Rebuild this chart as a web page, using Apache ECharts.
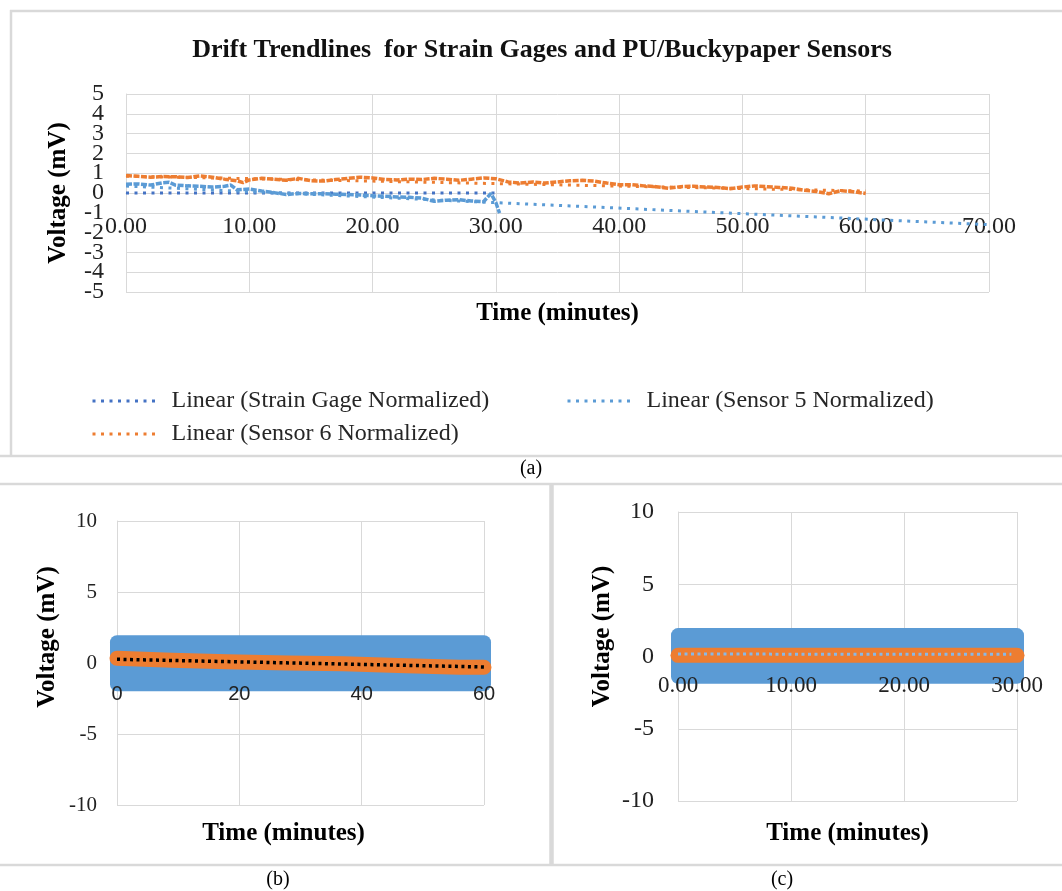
<!DOCTYPE html>
<html>
<head>
	<title>Drift Trendlines</title>
	<meta charset="utf-8" />
	<script type="text/javascript" src="https://cdn.jsdelivr.net/npm/echarts@6/dist/echarts.min.js"></script>
	<style type="text/css">
		html, body{ margin:0; padding:0; background:#fff; }
		#container{ width:1062px; height:891px; }
	</style>
</head>
<body>
<div id="container"></div>
</body>

<script type="text/javascript">
	// ---- panel (a): drift over time ----
	var s6Time  = [0,1,2,3,4,5,6,7,8,9,9.5,10,11,12,13,14,15,16,17,18,19,20,21,22,23,24,25,26,27,28,29,30,31,32,33,34,35,36,37,38,39,40,41,42,43,44,45,46,47,48,49,50,51,52,53,54,55,56,57,58,59,60];
	var s6Volt  = [0.88,0.84,0.80,0.83,0.82,0.78,0.86,0.80,0.70,0.62,0.52,0.66,0.74,0.70,0.64,0.74,0.62,0.60,0.68,0.74,0.80,0.76,0.68,0.66,0.70,0.68,0.74,0.70,0.64,0.70,0.76,0.72,0.56,0.50,0.56,0.50,0.56,0.62,0.64,0.60,0.50,0.42,0.42,0.36,0.32,0.24,0.32,0.34,0.30,0.28,0.22,0.30,0.36,0.32,0.28,0.24,0.14,0.08,-0.04,0.12,0.06,-0.02];
	var s5Time  = [0,1,2,3,3.5,4,5,6,7,8,8.5,9,10,11,12,13,14,15,16,17,18,19,20,21,22,23,24,25,26,27,28,29,29.6,30,30.3];
	var s5Volt  = [0.44,0.46,0.40,0.52,0.54,0.40,0.36,0.34,0.30,0.34,0.40,0.16,0.20,0.10,0.02,-0.08,-0.02,-0.04,-0.04,-0.06,-0.08,-0.10,-0.14,-0.16,-0.20,-0.22,-0.26,-0.42,-0.36,-0.34,-0.40,-0.44,-0.02,-0.48,-1.02];

	// trendline end points [t0, v0, t1, v1]
	var trendNames = ['Linear (Strain Gage Normalized)', 'Linear (Sensor 5 Normalized)', 'Linear (Sensor 6 Normalized)'];
	var trendGage  = [0, 0.00, 30, 0.00];
	var trendS5    = [0, 0.35, 70, -1.60];
	var trendS6    = [0, 0.85, 60, 0.10];

	// ---- panels (b) and (c): point clouds ----
	// blue cloud extent [t0, t1, low, high]
	var blueB = [0, 60, -1.50, 1.46];
	var blueC = [0, 30, -1.40, 1.48];
	// orange cloud centre line
	var orangeBTime = [0, 9, 18, 28, 37, 46, 56, 60];
	var orangeBVolt = [0.33, 0.20, 0.08, 0.00, -0.06, -0.18, -0.30, -0.30];
	var orangeCTime = [0, 30];
	var orangeCVolt = [0.08, 0.08];
	// trendlines [t0, v0, t1, v1]
	var trendB = [0, 0.26, 60, -0.28];
	var trendC = [0, 0.17, 29.5, 0.15];

	var blue = '#5B9BD5', orange = '#ED7D31', darkBlue = '#4472C4';
	var serif = '"Liberation Serif", "Times New Roman", serif';
	var gridColor = '#d9d9d9';

	function pairs(xs, ys){
		var out = [];
		for(var i = 0; i < xs.length; i++){ out.push([xs[i], ys[i]]); }
		return out;
	}
	function seg(t){ return [[t[0], t[1]], [t[2], t[3]]]; }

	// rounded block standing for a dense cloud of big markers
	function cloud(params, api){
		var r = 7;
		var a = api.coord([api.value(0), api.value(3)]);
		var b = api.coord([api.value(1), api.value(2)]);
		return {
			type:'rect',
			shape:{ x:a[0]-r, y:a[1]-r, width:b[0]-a[0]+2*r, height:b[1]-a[1]+2*r, r:r },
			style:{ fill:api.visual('color') }
		};
	}

	function valueAxis(idx, opt){
		var ax = {
			type:'value',
			gridIndex:idx,
			axisLine:{ show:true, onZero:false, lineStyle:{ color:gridColor, width:1 } },
			axisTick:{ show:false },
			splitLine:{ show:true, lineStyle:{ color:gridColor, width:1 } },
			nameLocation:'middle',
			nameMoveOverlap:false,
			nameTextStyle:{ fontFamily:serif, fontWeight:'bold', fontSize:25, color:'#000' },
			axisLabel:{ show:false }
		};
		for(var k in opt){ ax[k] = opt[k]; }
		ax.axisLabel.showMinLabel = true;
		ax.axisLabel.showMaxLabel = true;
		ax.axisLabel.hideOverlap = false;
		return ax;
	}
	// a twin axis that only carries text, drawn above the marks
	function textAxis(idx, opt){
		var ax = valueAxis(idx, opt);
		ax.axisLine = { show:false, onZero:false };
		ax.splitLine = { show:false };
		ax.z = 10;
		return ax;
	}

	var chart = echarts.init(document.getElementById('container'));

	// the time axes cross the voltage axes at 0 V, which sits mid-height in every panel
	var grids = [
		{ left:126, top:94, width:863, height:198 },
		{ left:117, top:521, width:367, height:284 },
		{ left:678, top:512, width:339, height:289 }
	];

	var options = {
		backgroundColor:'#fff',
		animation:false,
		title:{
			text:'Drift Trendlines  for Strain Gages and PU/Buckypaper Sensors',
			left:537, top:32, textAlign:'center',
			textStyle:{ fontFamily:serif, fontWeight:'bold', fontSize:26, color:'#111' }
		},
		legend:[0, 1, 2].map(function(i){
			var pos = [[86, 384], [561, 384], [86, 417]][i];
			return {
				data:[trendNames[i]],
				left:pos[0], top:pos[1],
				itemWidth:68, itemHeight:14,
				itemStyle:{ opacity:0 },
				lineStyle:{ width:3, type:[3, 5.5] },
				textStyle:{ fontFamily:serif, fontSize:24, color:'#262626', padding:[0, 0, 0, 6] }
			};
		}),
		grid:grids.map(function(g){
			return { left:g.left, top:g.top, width:g.width, height:g.height, outerBoundsMode:'none', containLabel:false };
		}),
		xAxis:[
			valueAxis(0, { min:0, max:70, interval:10, position:'bottom', offset:-grids[0].height/2, name:'Time (minutes)', nameGap:108,
				axisLabel:{ margin:22, fontFamily:serif, fontSize:24, color:'#222', formatter:function(v){ return v.toFixed(2); } } }),
			valueAxis(1, { min:0, max:60, interval:20, position:'bottom', offset:-grids[1].height/2 }),
			valueAxis(2, { min:0, max:30, interval:10, position:'bottom', offset:-grids[2].height/2 }),
			textAxis(1, { min:0, max:60, interval:20, position:'bottom', offset:-grids[1].height/2, name:'Time (minutes)', nameGap:158,
				nameTextStyle:{ fontFamily:serif, fontWeight:'bold', fontSize:25, color:'#000', padding:[0, 34, 0, 0] },
				axisLabel:{ margin:21, fontFamily:'"Liberation Sans", Arial, sans-serif', fontSize:20, color:'#222' } }),
			textAxis(2, { min:0, max:30, interval:10, position:'bottom', offset:-grids[2].height/2, name:'Time (minutes)', nameGap:165,
				axisLabel:{ margin:18, fontFamily:serif, fontSize:23, color:'#222', formatter:function(v){ return v.toFixed(2); } } })
		],
		yAxis:[
			// (a) odd volt labels here, even ones on the twin below (they sit too close for one axis)
			valueAxis(0, { min:-5, max:5, interval:1, position:'left', name:'Voltage (mV)', nameGap:55, nameRotate:90,
				axisLabel:{ margin:22, fontFamily:serif, fontSize:24, color:'#222',
					formatter:function(v){ return Math.abs(v) % 2 === 1 ? String(v) : ''; } } }),
			valueAxis(1, { min:-10, max:10, interval:5, position:'left', name:'Voltage (mV)', nameGap:57, nameRotate:90,
				nameTextStyle:{ fontFamily:serif, fontWeight:'bold', fontSize:25, color:'#000', padding:[0, 0, 0, 52] },
				axisLabel:{ margin:20, fontFamily:serif, fontSize:21, color:'#222' } }),
			valueAxis(2, { min:-10, max:10, interval:5, position:'left', name:'Voltage (mV)', nameGap:63, nameRotate:90,
				nameTextStyle:{ fontFamily:serif, fontWeight:'bold', fontSize:25, color:'#000', padding:[0, 0, 0, 40] },
				axisLabel:{ margin:24, fontFamily:serif, fontSize:24, color:'#222' } }),
			textAxis(0, { min:-5, max:5, interval:1, position:'left',
				axisLabel:{ margin:22, fontFamily:serif, fontSize:24, color:'#222',
					formatter:function(v){ return Math.abs(v) % 2 === 0 ? String(v) : ''; } } })
		],
		series:[
			// (a) trendlines first, the data sits over them
			{ name:trendNames[0], type:'line', xAxisIndex:0, yAxisIndex:0, data:seg(trendGage), symbol:'none', z:2,
				lineStyle:{ color:darkBlue, width:3, type:[3, 5.5] }, itemStyle:{ color:darkBlue } },
			{ name:trendNames[1], type:'line', xAxisIndex:0, yAxisIndex:0, data:seg(trendS5), symbol:'none', z:2,
				lineStyle:{ color:blue, width:3, type:[3, 5.5] }, itemStyle:{ color:blue } },
			{ name:trendNames[2], type:'line', xAxisIndex:0, yAxisIndex:0, data:seg(trendS6), symbol:'none', z:2,
				lineStyle:{ color:orange, width:3, type:[3, 5.5] }, itemStyle:{ color:orange } },
			{ name:'Sensor 6 Normalized', type:'line', xAxisIndex:0, yAxisIndex:0, data:pairs(s6Time, s6Volt), symbol:'none', z:3,
				lineStyle:{ color:orange, width:3.5, type:[6, 1.5] } },
			{ name:'Sensor 5 Normalized', type:'line', xAxisIndex:0, yAxisIndex:0, data:pairs(s5Time, s5Volt), symbol:'none', z:3,
				lineStyle:{ color:blue, width:3.5, type:[6, 1.5] } },

			// (b)
			{ type:'custom', xAxisIndex:1, yAxisIndex:1, renderItem:cloud, clip:false, itemStyle:{ color:blue },
				encode:{ x:[0, 1], y:[2, 3] }, data:[blueB] },
			{ type:'line', xAxisIndex:1, yAxisIndex:1, data:pairs(orangeBTime, orangeBVolt), symbol:'none', clip:false,
				lineStyle:{ color:orange, width:15, cap:'round', join:'round' } },
			{ type:'line', xAxisIndex:1, yAxisIndex:1, data:seg(trendB), symbol:'none', clip:false,
				lineStyle:{ color:'#000', width:3.5, type:[3, 3.5] } },

			// (c)
			{ type:'custom', xAxisIndex:2, yAxisIndex:2, renderItem:cloud, clip:false, itemStyle:{ color:blue },
				encode:{ x:[0, 1], y:[2, 3] }, data:[blueC] },
			{ type:'line', xAxisIndex:2, yAxisIndex:2, data:pairs(orangeCTime, orangeCVolt), symbol:'none', clip:false,
				lineStyle:{ color:orange, width:15, cap:'round' } },
			{ type:'line', xAxisIndex:2, yAxisIndex:2, data:seg(trendC), symbol:'none', clip:false,
				lineStyle:{ color:'#8ab8e4', width:3, type:[3, 3.5] } }
		],
		graphic:[
			// panel frames
			{ type:'line', shape:{ x1:10, y1:11, x2:1062, y2:11 }, style:{ stroke:gridColor, lineWidth:2.5 } },
			{ type:'line', shape:{ x1:11, y1:10, x2:11, y2:456 }, style:{ stroke:gridColor, lineWidth:2.5 } },
			{ type:'line', shape:{ x1:0, y1:456, x2:1062, y2:456 }, style:{ stroke:gridColor, lineWidth:2.5 } },
			{ type:'line', shape:{ x1:0, y1:484, x2:1062, y2:484 }, style:{ stroke:gridColor, lineWidth:2.5 } },
			{ type:'line', shape:{ x1:551.5, y1:484, x2:551.5, y2:865 }, style:{ stroke:gridColor, lineWidth:4.5 } },
			{ type:'line', shape:{ x1:0, y1:865, x2:1062, y2:865 }, style:{ stroke:gridColor, lineWidth:2.5 } },
			// captions
			{ type:'text', x:531, y:469, style:{ text:'(a)', fontFamily:serif, fontSize:20, fill:'#000', align:'center', verticalAlign:'middle' } },
			{ type:'text', x:278, y:880, style:{ text:'(b)', fontFamily:serif, fontSize:20, fill:'#000', align:'center', verticalAlign:'middle' } },
			{ type:'text', x:782, y:880, style:{ text:'(c)', fontFamily:serif, fontSize:20, fill:'#000', align:'center', verticalAlign:'middle' } }
		]
	};

	chart.setOption(options);
</script>

</html>
